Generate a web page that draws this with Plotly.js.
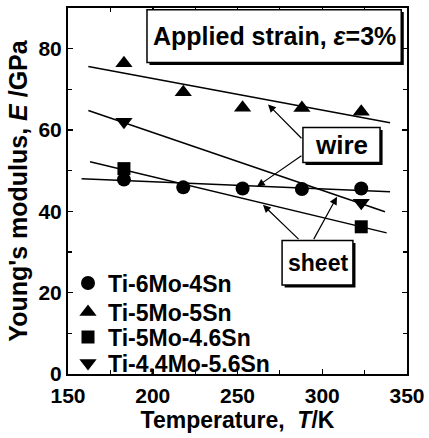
<!DOCTYPE html>
<html>
<head>
<meta charset="utf-8">
<script src="https://cdn.plot.ly/plotly-3.0.1.min.js"></script>
<style>html,body{margin:0;padding:0;background:#fff;}#chart{width:429px;height:438px;}</style>
</head>
<body>
<div id="chart"></div>
<script>
// ---- data ----
const seriesNames = ['Ti-6Mo-4Sn', 'Ti-5Mo-5Sn', 'Ti-5Mo-4.6Sn', 'Ti-4,4Mo-5.6Sn'];
const tempsWire = [183, 218, 253, 288, 323];          // K
const eTi6Mo4Sn = [47.8, 45.9, 45.6, 45.5, 45.6];      // GPa
const eTi5Mo5Sn = [76.4, 69.3, 65.5, 65.4, 64.5];
const tempsSheet = [183, 323];
const eTi5Mo46Sn = [50.5, 36.2];
const eTi44Mo56Sn = [62.0, 42.1];
// fitted lines (end points)
const fit6Mo4SnT = [158, 340],  fit6Mo4SnE = [48.0, 44.8];
const fit5Mo5SnT = [162, 340],  fit5Mo5SnE = [75.6, 61.8];
const fit5Mo46SnT = [163, 338], fit5Mo46SnE = [52.2, 34.7];
const fit44MoT = [162, 337],    fit44MoE = [64.8, 39.9];
const xTicks = [150, 200, 250, 300, 350];
const yTicks = [0, 20, 40, 60, 80];

const FONT = 'Liberation Sans, Arial, Helvetica, sans-serif';
const black = '#000';

function pts(name, x, y, symbol, size, legendId) {
  return {x: x, y: y, name: name, type: 'scatter', mode: 'markers', legend: legendId,
    marker: {symbol: symbol, size: size, color: black}, cliponaxis: false};
}
function fit(x, y) {
  return {x: x, y: y, type: 'scatter', mode: 'lines', showlegend: false,
    line: {color: black, width: 1.5}, hoverinfo: 'skip'};
}

const traces = [
  fit(fit6Mo4SnT, fit6Mo4SnE), fit(fit5Mo5SnT, fit5Mo5SnE),
  fit(fit5Mo46SnT, fit5Mo46SnE), fit(fit44MoT, fit44MoE),
  pts(seriesNames[0], tempsWire, eTi6Mo4Sn, 'circle', 14, 'legend'),
  pts(seriesNames[1], tempsWire, eTi5Mo5Sn, 'triangle-up', 15, 'legend2'),
  pts(seriesNames[2], tempsSheet, eTi5Mo46Sn, 'square', 13, 'legend3'),
  pts(seriesNames[3], tempsSheet, eTi44Mo56Sn, 'triangle-down', 15, 'legend4')
];

function box(x0, x1, y0, y1, dx, dy) {
  return [
    {type: 'rect', xref: 'x', yref: 'y', x0: x0 + dx, x1: x1 + dx, y0: y0 - dy, y1: y1 - dy,
     fillcolor: black, line: {width: 0}, layer: 'above'},
    {type: 'rect', xref: 'x', yref: 'y', x0: x0, x1: x1, y0: y0, y1: y1,
     fillcolor: '#fff', line: {color: black, width: 1.5}, layer: 'above'}
  ];
}
const shapes = [].concat(
  box(196.6, 346.6, 76.6, 89.6, 1.5, 0.6),
  box(288.6, 334.1, 52.0, 60.6, 1.5, 0.6),
  box(276.3, 318.1, 21.9, 32.8, 1.5, 0.6)
);

function label(text, x, y, size) {
  return {text: text, x: x, y: y, xref: 'x', yref: 'y', showarrow: false,
    font: {family: FONT, size: size, color: black, weight: 'bold'}};
}
function arrow(xHead, yHead, xTail, yTail) {
  return {text: '', x: xHead, y: yHead, ax: xTail, ay: yTail, xref: 'x', yref: 'y',
    axref: 'x', ayref: 'y', showarrow: true, arrowhead: 2, arrowsize: 1.3,
    arrowwidth: 1.2, arrowcolor: black, standoff: 0, startstandoff: 0};
}
const annotations = [
  label('Applied strain, <i>ε</i>=3%', 272, 83.1, 25),
  label('wire', 311.3, 56.2, 26),
  label('sheet', 297.2, 27.4, 23),
  arrow(268, 66.3, 288.6, 57.6),
  arrow(261.5, 46.1, 288.6, 53.9),
  arrow(265, 41.6, 286.9, 32.8),
  arrow(308.7, 43.6, 294.5, 32.8)
];

const axisCommon = {
  showline: true, linecolor: black, linewidth: 2, mirror: 'ticks',
  ticks: 'inside', ticklen: 5, tickwidth: 1.5, tickcolor: black,
  showgrid: false, zeroline: false,
  tickfont: {family: FONT, size: 21, color: black, weight: 'bold'}
};

const legendFont = {family: FONT, size: 23, color: black, weight: 'bold'};
function legendAt(y) {
  return {x: 0.0, y: y, xanchor: 'left', yanchor: 'middle', bgcolor: 'rgba(0,0,0,0)',
    font: legendFont, borderwidth: 0};
}

const layout = {
  width: 429, height: 438,
  margin: {l: 68, r: 22, t: 8, b: 64},
  paper_bgcolor: '#fff', plot_bgcolor: '#fff',
  showlegend: true,
  legend: legendAt(0.2486),
  legend2: legendAt(0.1694),
  legend3: legendAt(0.1011),
  legend4: legendAt(0.0301),
  xaxis: Object.assign({}, axisCommon, {
    range: [150, 350], tickvals: xTicks, ticktext: xTicks.map(String),
    ticklabelstandoff: 2,
    minor: {dtick: 25, ticks: 'inside', ticklen: 4, tickwidth: 1.2, tickcolor: black},
    title: {text: 'Temperature,  <i>T</i>/K', standoff: 2,
      font: {family: FONT, size: 23, color: black, weight: 'bold'}}
  }),
  yaxis: Object.assign({}, axisCommon, {
    range: [0, 90], tickvals: yTicks, ticktext: yTicks.map(String),
    minor: {dtick: 10, ticks: 'inside', ticklen: 4, tickwidth: 1.2, tickcolor: black},
    title: {text: "Young's modulus, <i>E</i> /GPa", standoff: 4,
      font: {family: FONT, size: 25, color: black, weight: 'bold'}}
  }),
  shapes: shapes,
  annotations: annotations
};

Plotly.newPlot('chart', traces, layout, {displayModeBar: false, staticPlot: true});
</script>
</body>
</html>
